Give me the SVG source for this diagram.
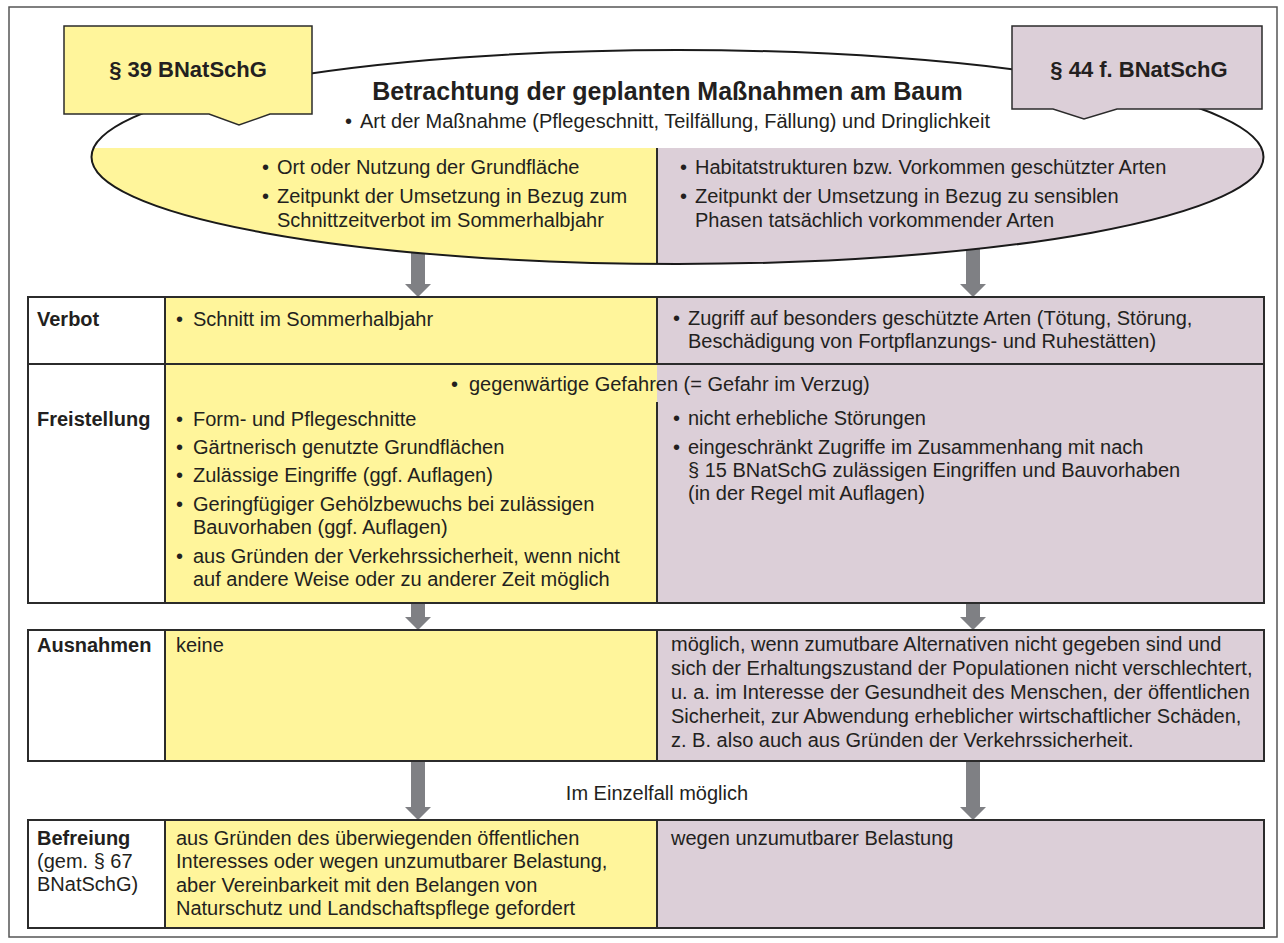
<svg xmlns="http://www.w3.org/2000/svg" width="1284" height="943" viewBox="0 0 1284 943">
<style>
.t{font-family:"Liberation Sans",Arial,Helvetica,sans-serif;font-size:20px;fill:#231f20}
.b{font-weight:bold}
.ttl{font-size:25px;font-weight:bold}
.cap{font-size:22px;font-weight:bold}
.y{fill:#fff59b}
.p{fill:#dccfd8}
.w{fill:#ffffff}
.ln{stroke:#2b2b2b;stroke-width:2;fill:none}
.arr{fill:#7f8084}
</style>
<defs>
<clipPath id="ec"><ellipse cx="677.5" cy="157" rx="586" ry="107"/></clipPath>
</defs>
<rect x="9" y="7" width="1268" height="930" fill="#ffffff" stroke="#555555" stroke-width="1.5"/>
<g id="connectors">
<path class="arr" d="M411,250 L425,250 L425,284 L431,284 L418,297 L405,284 L411,284 Z"/>
<path class="arr" d="M966,246 L980,246 L980,284 L986,284 L973,297 L960,284 L966,284 Z"/>
<path class="arr" d="M411,603 L425,603 L425,617 L431,617 L418,630 L405,617 L411,617 Z"/>
<path class="arr" d="M966,603 L980,603 L980,617 L986,617 L973,630 L960,617 L966,617 Z"/>
<path class="arr" d="M411,761 L425,761 L425,807 L431,807 L418,820 L405,807 L411,807 Z"/>
<path class="arr" d="M966,761 L980,761 L980,807 L986,807 L973,820 L960,807 L966,807 Z"/>
<text class="t" x="657" y="800" text-anchor="middle">Im Einzelfall möglich</text>
</g>
<g id="ellipse">
<ellipse cx="677.5" cy="157" rx="586" ry="107" fill="#ffffff"/>
<g clip-path="url(#ec)">
<rect class="y" x="0" y="148" width="657" height="130"/>
<rect class="p" x="657" y="148" width="627" height="130"/>
</g>
<line class="ln" x1="657" y1="148" x2="657" y2="264"/>
<ellipse cx="677.5" cy="157" rx="586" ry="107" fill="none" stroke="#1a1a1a" stroke-width="2"/>
<text class="t ttl" x="667.5" y="100" text-anchor="middle">Betrachtung der geplanten Maßnahmen am Baum</text>
<text class="t" y="128"><tspan x="345">•</tspan><tspan x="360">Art der Maßnahme (Pflegeschnitt, Teilfällung, Fällung) und Dringlichkeit</tspan></text>
<text class="t" y="174"><tspan x="262">•</tspan><tspan x="277">Ort oder Nutzung der Grundfläche</tspan></text>
<text class="t" y="203"><tspan x="262">•</tspan><tspan x="277">Zeitpunkt der Umsetzung in Bezug zum</tspan></text>
<text class="t" x="277" y="227">Schnittzeitverbot im Sommerhalbjahr</text>
<text class="t" y="174"><tspan x="680">•</tspan><tspan x="695">Habitatstrukturen bzw. Vorkommen geschützter Arten</tspan></text>
<text class="t" y="203"><tspan x="680">•</tspan><tspan x="695">Zeitpunkt der Umsetzung in Bezug zu sensiblen</tspan></text>
<text class="t" x="695" y="227">Phasen tatsächlich vorkommender Arten</text>
</g>
<g id="callout-39">
<path class="y" d="M64,26 L312,26 L312,114 L270,114 L239,125 L209,114 L64,114 Z" stroke="#2b2b2b" stroke-width="1.5"/>
<text class="t cap" x="188" y="77" text-anchor="middle">§ 39 BNatSchG</text>
</g>
<g id="callout-44">
<path class="p" d="M1012,26 L1262,26 L1262,109 L1117,109 L1084,119 L1053,109 L1012,109 Z" stroke="#2b2b2b" stroke-width="1.5"/>
<text class="t cap" x="1139" y="77" text-anchor="middle">§ 44 f. BNatSchG</text>
</g>
<g id="row-verbot">
<rect class="w" x="28" y="297" width="137" height="67"/>
<rect class="y" x="165" y="297" width="492" height="67"/>
<rect class="p" x="657" y="297" width="607" height="67"/>
<rect class="ln" x="28" y="297" width="1236" height="67"/>
<line class="ln" x1="165" y1="297" x2="165" y2="364"/>
<line class="ln" x1="657" y1="297" x2="657" y2="364"/>
<text class="t b" x="37" y="326">Verbot</text>
<text class="t" y="326"><tspan x="176">•</tspan><tspan x="193">Schnitt im Sommerhalbjahr</tspan></text>
<text class="t" y="325"><tspan x="673">•</tspan><tspan x="688">Zugriff auf besonders geschützte Arten (Tötung, Störung,</tspan></text>
<text class="t" x="688" y="348">Beschädigung von Fortpflanzungs- und Ruhestätten)</text>
</g>
<g id="row-freistellung">
<rect class="w" x="28" y="364" width="137" height="239"/>
<rect class="y" x="165" y="364" width="492" height="239"/>
<rect class="p" x="657" y="364" width="607" height="239"/>
<rect class="ln" x="28" y="364" width="1236" height="239"/>
<line class="ln" x1="165" y1="364" x2="165" y2="603"/>
<line class="ln" x1="657" y1="402" x2="657" y2="603"/>
<text class="t b" x="37" y="426">Freistellung</text>
<text class="t" y="391"><tspan x="451">•</tspan><tspan x="469">gegenwärtige Gefahren (= Gefahr im Verzug)</tspan></text>
<text class="t" y="426"><tspan x="176">•</tspan><tspan x="193">Form- und Pflegeschnitte</tspan></text>
<text class="t" y="454"><tspan x="176">•</tspan><tspan x="193">Gärtnerisch genutzte Grundflächen</tspan></text>
<text class="t" y="482"><tspan x="176">•</tspan><tspan x="193">Zulässige Eingriffe (ggf. Auflagen)</tspan></text>
<text class="t" y="511"><tspan x="176">•</tspan><tspan x="193">Geringfügiger Gehölzbewuchs bei zulässigen</tspan></text>
<text class="t" x="193" y="534">Bauvorhaben (ggf. Auflagen)</text>
<text class="t" y="563"><tspan x="176">•</tspan><tspan x="193">aus Gründen der Verkehrssicherheit, wenn nicht</tspan></text>
<text class="t" x="193" y="586">auf andere Weise oder zu anderer Zeit möglich</text>
<text class="t" y="425"><tspan x="673">•</tspan><tspan x="688">nicht erhebliche Störungen</tspan></text>
<text class="t" y="454"><tspan x="673">•</tspan><tspan x="688">eingeschränkt Zugriffe im Zusammenhang mit nach</tspan></text>
<text class="t" x="688" y="477">§ 15 BNatSchG zulässigen Eingriffen und Bauvorhaben</text>
<text class="t" x="688" y="500">(in der Regel mit Auflagen)</text>
</g>
<g id="row-ausnahmen">
<rect class="w" x="28" y="630" width="137" height="131"/>
<rect class="y" x="165" y="630" width="492" height="131"/>
<rect class="p" x="657" y="630" width="607" height="131"/>
<rect class="ln" x="28" y="630" width="1236" height="131"/>
<line class="ln" x1="165" y1="630" x2="165" y2="761"/>
<line class="ln" x1="657" y1="630" x2="657" y2="761"/>
<text class="t b" x="37" y="652">Ausnahmen</text>
<text class="t" x="176" y="652">keine</text>
<text class="t" x="671" y="651">möglich, wenn zumutbare Alternativen nicht gegeben sind und</text>
<text class="t" x="671" y="675">sich der Erhaltungszustand der Populationen nicht verschlechtert,</text>
<text class="t" x="671" y="699">u. a. im Interesse der Gesundheit des Menschen, der öffentlichen</text>
<text class="t" x="671" y="723">Sicherheit, zur Abwendung erheblicher wirtschaftlicher Schäden,</text>
<text class="t" x="671" y="747">z. B. also auch aus Gründen der Verkehrssicherheit.</text>
</g>
<g id="row-befreiung">
<rect class="w" x="28" y="820" width="137" height="108"/>
<rect class="y" x="165" y="820" width="492" height="108"/>
<rect class="p" x="657" y="820" width="607" height="108"/>
<rect class="ln" x="28" y="820" width="1236" height="108"/>
<line class="ln" x1="165" y1="820" x2="165" y2="928"/>
<line class="ln" x1="657" y1="820" x2="657" y2="928"/>
<text class="t b" x="37" y="845">Befreiung</text>
<text class="t" x="37" y="868">(gem. § 67</text>
<text class="t" x="37" y="891">BNatSchG)</text>
<text class="t" x="176" y="845">aus Gründen des überwiegenden öffentlichen</text>
<text class="t" x="176" y="868">Interesses oder wegen unzumutbarer Belastung,</text>
<text class="t" x="176" y="892">aber Vereinbarkeit mit den Belangen von</text>
<text class="t" x="176" y="915">Naturschutz und Landschaftspflege gefordert</text>
<text class="t" x="671" y="845">wegen unzumutbarer Belastung</text>
</g>
</svg>
